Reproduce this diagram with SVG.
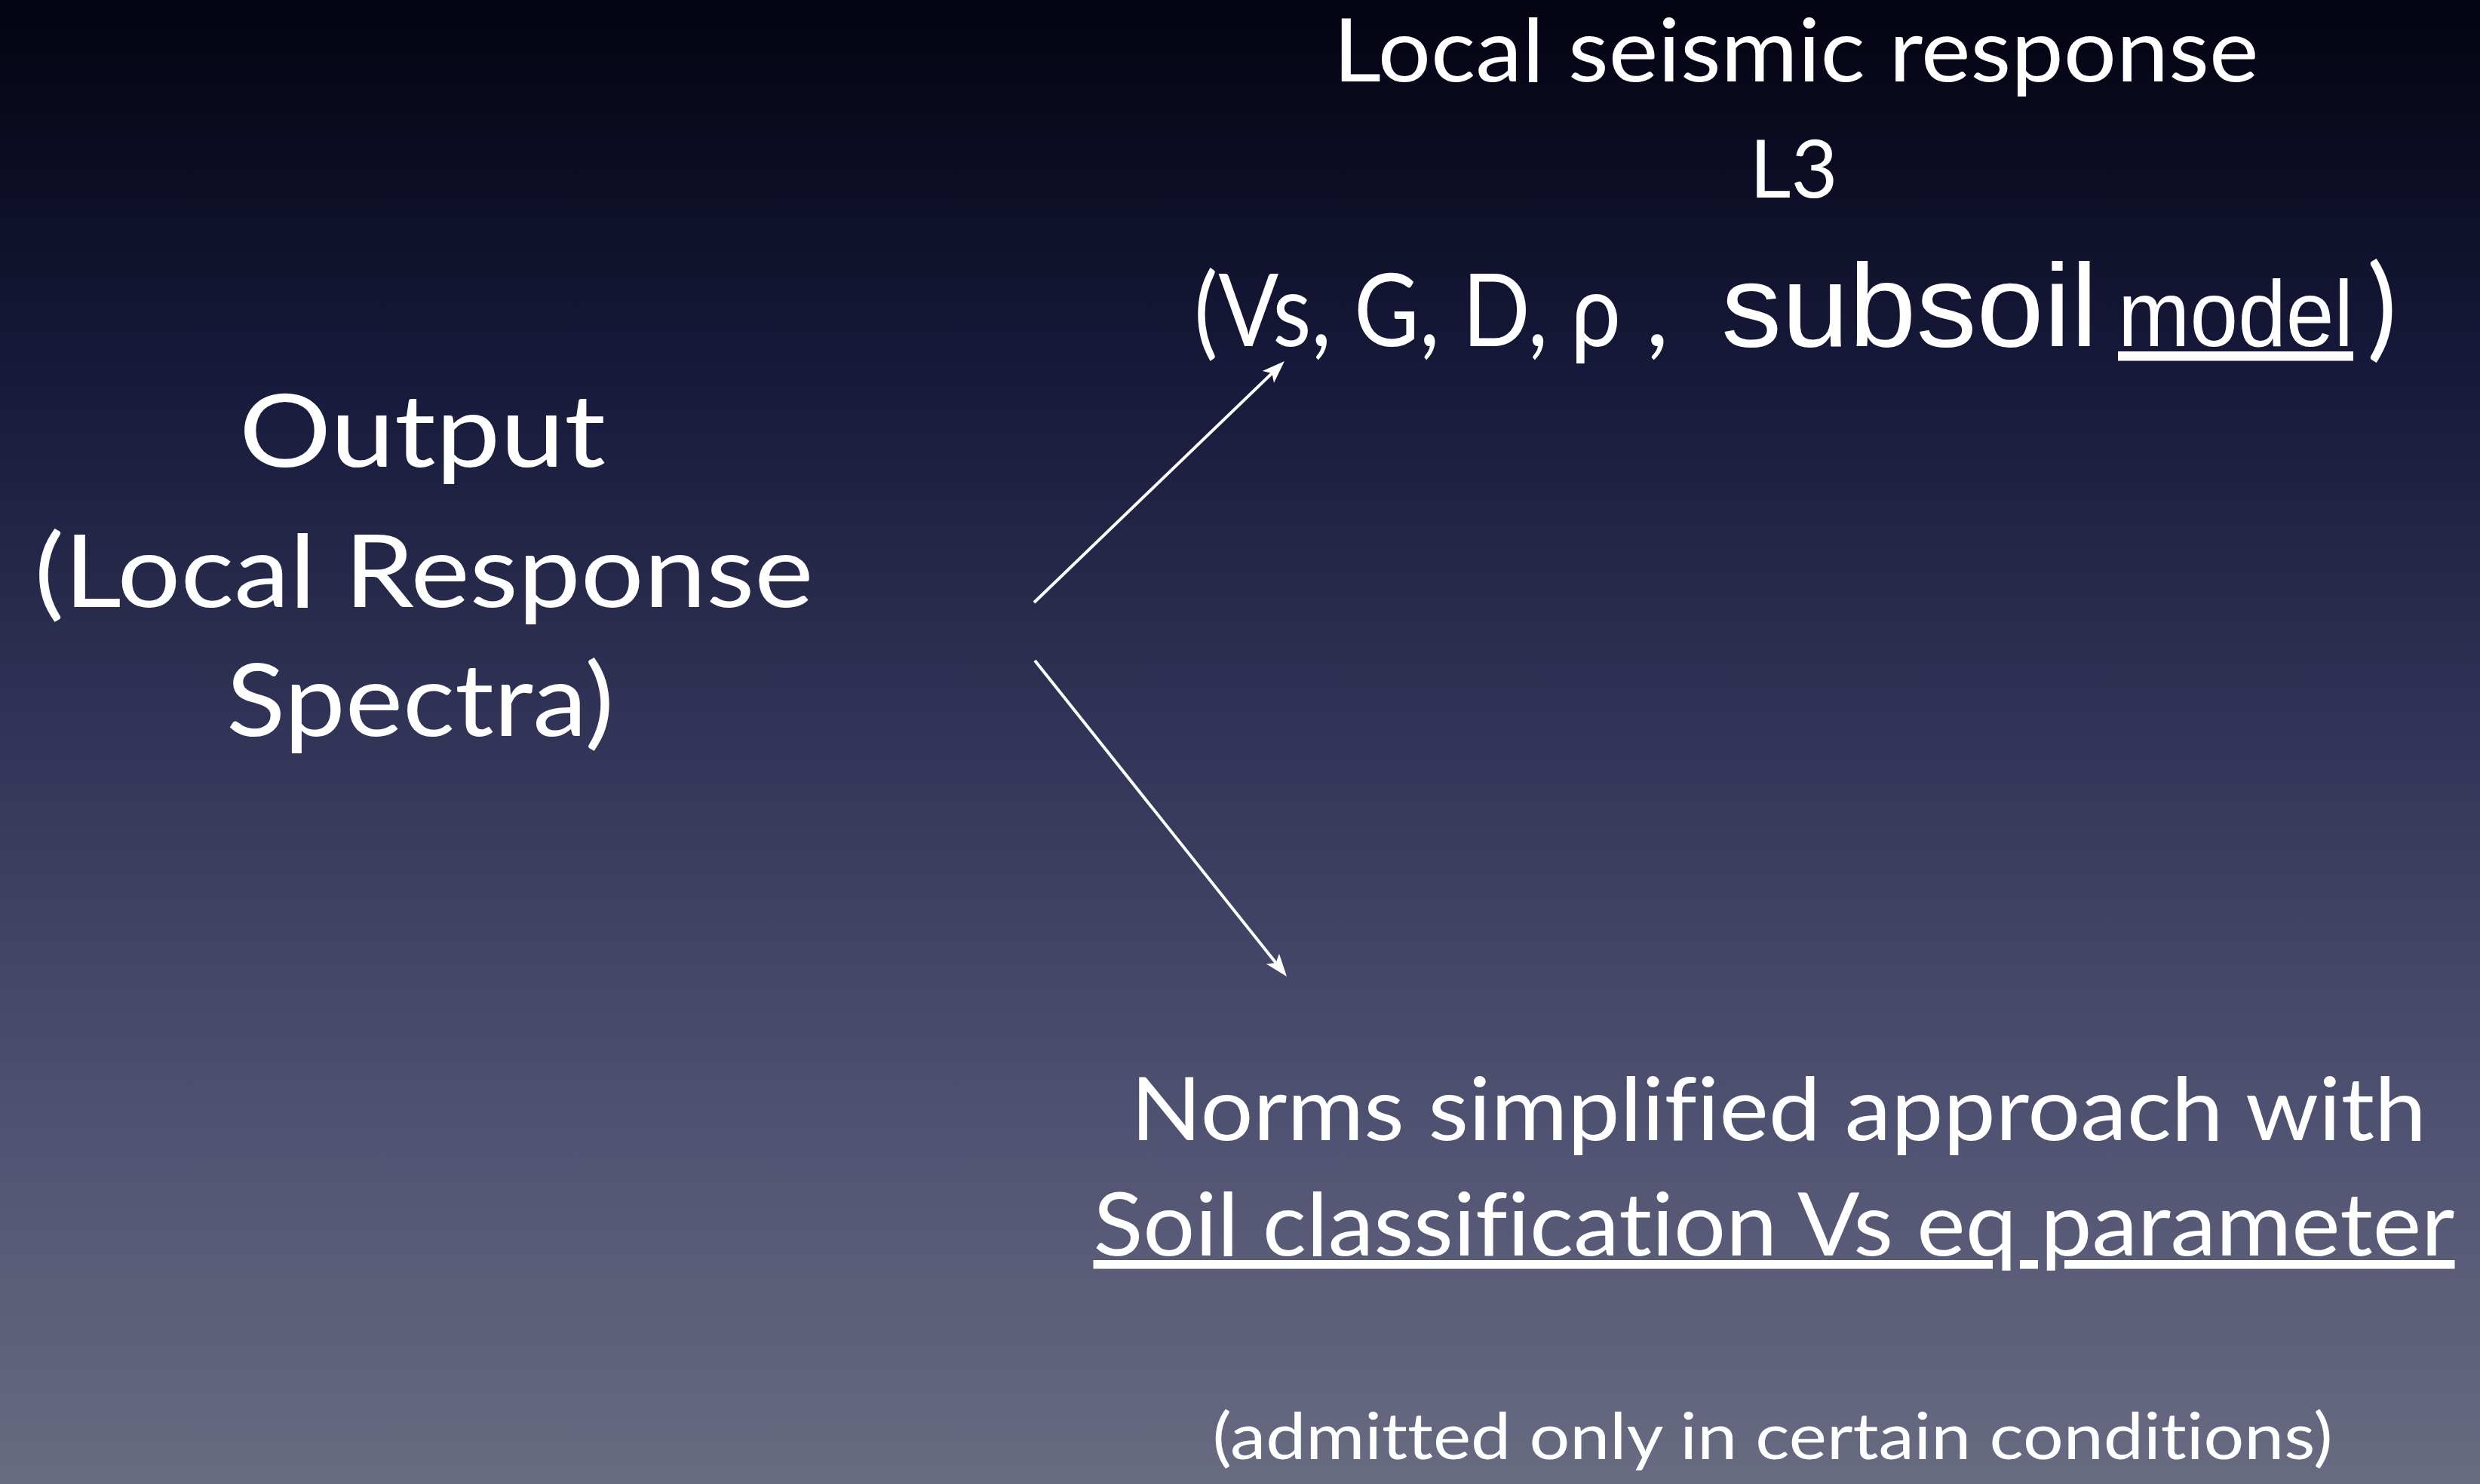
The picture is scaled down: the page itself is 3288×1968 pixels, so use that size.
<svg xmlns="http://www.w3.org/2000/svg" width="3288" height="1968" viewBox="0 0 3288 1968">
<defs>
<linearGradient id="bg" x1="0" y1="0" x2="0" y2="1">
<stop offset="0" stop-color="#030311"/>
<stop offset="0.25" stop-color="#17193a"/>
<stop offset="0.5" stop-color="#323557"/>
<stop offset="0.75" stop-color="#4f5171"/>
<stop offset="1" stop-color="#696b82"/>
</linearGradient>
<marker id="ah" markerUnits="userSpaceOnUse" viewBox="-1 -12 32 24" markerWidth="32" markerHeight="24" refX="12" refY="0" orient="auto">
<path d="M30,0 L0,-11 L7,0 L0,11 Z" fill="#ffffff"/>
</marker>
<style>
text{fill:#ffffff;font-family:Lato,"Open Sans","Liberation Sans",sans-serif;font-variant-ligatures:none;}
.main{font-size:116px;text-anchor:middle;}
.big{font-size:134px;text-anchor:middle;}
.small{font-size:86px;text-anchor:middle;}
.arial{font-family:"Liberation Sans",Arial,sans-serif;}
.conn{stroke:#ffffff;stroke-width:4;fill:none;marker-end:url(#ah);}
</style>
</defs>
<rect x="0" y="0" width="3288" height="1968" fill="url(#bg)"/>
<g id="node-output">
<text class="big" x="560" y="619" textLength="486" lengthAdjust="spacingAndGlyphs">Output</text>
<text class="big" x="562" y="805" textLength="1033" lengthAdjust="spacingAndGlyphs">(Local Response</text>
<text class="big" x="557" y="976" textLength="514" lengthAdjust="spacingAndGlyphs">Spectra)</text>
</g>
<g id="node-l3">
<text class="main" x="2381" y="108" textLength="1227" lengthAdjust="spacingAndGlyphs">Local seismic response</text>
<text class="main" x="2378" y="262" style="font-size:106px" textLength="117" lengthAdjust="spacingAndGlyphs">L3</text>
<text y="459" style="font-size:134px"><tspan x="1583" textLength="566" lengthAdjust="spacingAndGlyphs">(Vs, G, D, ρ</tspan><tspan x="2182">,</tspan> <tspan class="arial" x="2282" style="font-size:155px" textLength="499" lengthAdjust="spacingAndGlyphs">subsoil</tspan> <tspan class="arial" x="2808" style="font-size:125px;text-decoration:underline" textLength="312" lengthAdjust="spacingAndGlyphs">model</tspan><tspan x="3138" style="font-size:150px">)</tspan></text>
</g>
<g id="node-norms">
<text class="main" x="2358" y="1512" textLength="1718" lengthAdjust="spacingAndGlyphs">Norms simplified approach with</text>
<text class="main" x="2352" y="1665" style="text-decoration:underline" textLength="1805" lengthAdjust="spacingAndGlyphs">Soil classification Vs eq parameter</text>
<text class="small" x="2350" y="1935" textLength="1485" lengthAdjust="spacingAndGlyphs">(admitted only in certain conditions)</text>
</g>
<g id="connectors">
<line class="conn" x1="1371" y1="799" x2="1690" y2="491.5"/>
<line class="conn" x1="1372" y1="876" x2="1694.8" y2="1280.9"/>
</g>
</svg>
